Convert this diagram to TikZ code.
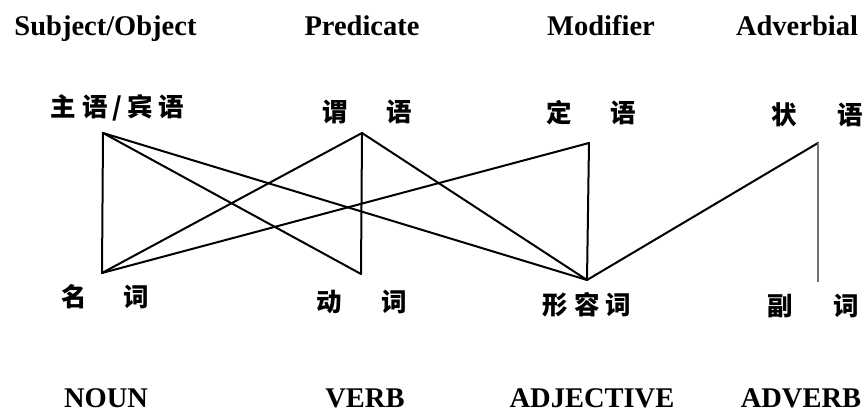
\documentclass[tikz,border=0pt]{standalone}
\usepackage{fontspec}
\setmainfont{Liberation Serif}
\newfontfamily\cjk{Noto Sans CJK SC}
\begin{document}
\begin{tikzpicture}[x=1pt,y=1pt,
  en/.style={font=\fontsize{28.5}{30}\selectfont\bfseries, inner sep=0pt, anchor=base},
  cn/.style={font=\fontsize{25.5}{26}\selectfont\cjk\bfseries, inner sep=0pt},
  link/.style={line width=2pt, line join=round, line cap=round},
  thinlink/.style={line width=1.1pt, draw=black!55}]
\useasboundingbox (0,0) rectangle (865,414);
\fill[white] (0,0) rectangle (865,414);

% English headers
\node[en] (hS) at (105.5,378) {Subject/Object};
\node[en] (hP) at (362,378) {Predicate};
\node[en] (hM) at (601,378) {Modifier};
\node[en] (hD) at (797,378) {Adverbial};

\node[en] (fN) at (106,6) {NOUN};
\node[en] (fV) at (365,6) {VERB};
\node[en] (fA) at (592,6) {ADJECTIVE};
\node[en] (fB) at (801,6) {ADVERB};

% Chinese labels
\node[cn] (cS) at (117.5,306.5) {主\hspace{6pt}语\hspace{5pt}/\hspace{5pt}宾\hspace{6pt}语};
\node[cn] (cP) at (367,302.5) {谓\hspace{39pt}语};
\node[cn] (cM) at (591,301) {定\hspace{39pt}语};
\node[cn] (cD) at (817,299) {状\hspace{41pt}语};
\node[cn] (cN) at (105,117.5) {名\hspace{37pt}词};
\node[cn] (cV) at (362,112) {动\hspace{40pt}词};
\node[cn] (cA) at (587,109) {形\hspace{6pt}容\hspace{6pt}词};
\node[cn] (cB) at (813,107.5) {副\hspace{41pt}词};

% connection points
\coordinate (S) at (103,281);
\coordinate (P) at (362,281);
\coordinate (M) at (589,271);
\coordinate (D) at (818,271);
\coordinate (N) at (102,141);
\coordinate (V) at (361,140);
\coordinate (A) at (587,134);
\coordinate (B) at (818,132);

% connectors
\draw[link] (S) -- (N);
\draw[link] (S) -- (V);
\draw[link] (S) -- (A);
\draw[link] (P) -- (N);
\draw[link] (P) -- (V);
\draw[link] (P) -- (A);
\draw[link] (M) -- (N);
\draw[link] (M) -- (A);
\draw[link] (D) -- (A);
\draw[thinlink] (D) -- (B);
\end{tikzpicture}
\end{document}
